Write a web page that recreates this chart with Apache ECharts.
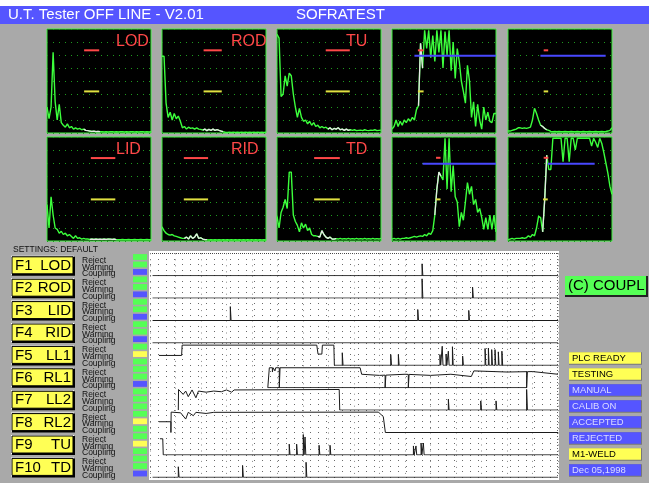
<!DOCTYPE html>
<html><head><meta charset="utf-8">
<script src="https://cdn.jsdelivr.net/npm/echarts/dist/echarts.min.js"></script>
<style>html,body{margin:0;padding:0;background:#a9a9a9;overflow:hidden}#c{width:649px;height:483px}</style>
</head><body><div id="c"></div>
<script>
// ---------------- DATA ----------------
const titleLeft = 'U.T. Tester OFF LINE - V2.01';
const titleRight = 'SOFRATEST';
const settingsText = 'SETTINGS: DEFAULT';
const scopeLabels = ['LOD','ROD','TU','','','LID','RID','TD','',''];

const traceLOD = [2.0,1.1,2.0,6.2,2.4,1.0,2.2,0.8,0.6,0.45,0.7,0.4,0.5,0.3,0.4,0.3,0.35,0.25,0.3,0.2,0.18,0.15,0.12,0.14,0.1,0.12,0.1,0.1,0.08,0.1,0.08,0.1,0.1,0.08,0.1,0.08,0.1,0.1,0.08,0.1,0.08,0.1,0.1,0.08,0.1,0.08,0.1,0.1,0.08,0.1,0.08,0.1];
const traceROD = [5.9,5.9,2.3,1.2,1.6,1.0,1.5,1.1,1.3,0.9,0.4,0.5,0.3,0.45,0.35,0.4,0.3,0.4,0.3,0.28,0.22,0.3,0.18,0.28,0.2,0.3,0.2,0.26,0.2,0.15,0.1,0.06,0.05,0.06,0.05,0.06,0.05,0.06,0.05,0.06,0.05,0.06,0.05,0.06,0.05,0.06,0.05,0.06,0.05,0.06,0.05,0.06];
const traceTU = [7.6,7.3,2.8,3.0,4.4,3.6,4.6,4.4,3.0,2.0,1.2,1.9,1.2,0.9,1.0,0.7,0.9,0.6,0.8,0.5,0.6,0.4,0.5,0.4,0.45,0.3,0.4,0.25,0.35,0.3,0.4,0.25,0.3,0.2,0.3,0.2,0.25,0.2,0.25,0.18,0.2,0.22,0.18,0.25,0.2,0.18,0.22,0.2,0.25,0.18,0.2,0.22];
const traceU4 = [0.3,0.5,1.0,0.5,0.9,0.6,1.0,0.8,1.1,0.9,1.2,1.0,1.8,2.1,6.9,5.0,7.9,6.5,7.9,5.8,7.5,5.5,7.9,6.2,7.9,5.0,7.8,6.0,7.9,4.8,7.0,4.2,6.5,5.5,4.0,3.2,2.3,5.2,4.0,1.2,2.4,0.5,2.2,1.0,0.3,2.0,1.0,1.6,0.9,0.8,1.5,1.5];
const traceU5 = [0.15,0.15,0.2,0.25,0.3,0.4,0.4,0.35,0.4,0.35,0.4,0.45,1.0,1.9,1.5,1.0,0.6,0.5,0.35,0.25,0.2,0.12,0.1,0.12,0.1,0.12,0.1,0.1,0.12,0.1,0.1,0.12,0.1,0.1,0.12,0.1,0.1,0.12,0.1,0.1,0.12,0.1,0.1,0.12,0.1,0.1,0.12,0.1,0.12,0.15,0.2,0.4];
const traceLID = [2.8,1.0,3.4,2.0,1.0,0.9,0.6,0.75,0.5,0.6,0.4,0.5,0.35,0.2,0.4,0.2,0.25,0.15,0.2,0.15,0.15,0.12,0.15,0.12,0.15,0.12,0.14,0.12,0.15,0.12,0.15,0.14,0.12,0.15,0.1,0.1,0.1,0.12,0.1,0.1,0.12,0.1,0.1,0.12,0.1,0.1,0.12,0.1,0.1,0.12,0.1,0.1];
const traceRID = [1.1,0.8,0.6,0.5,0.45,0.5,0.4,0.35,0.3,0.25,0.2,0.2,0.3,0.15,0.4,0.2,0.3,0.55,0.2,0.25,0.15,0.1,0.1,0.08,0.1,0.08,0.1,0.08,0.1,0.08,0.1,0.08,0.1,0.08,0.1,0.08,0.1,0.08,0.1,0.08,0.1,0.08,0.1,0.08,0.1,0.08,0.1,0.08,0.1,0.08,0.1,0.08];
const traceTD = [1.9,1.0,2.2,2.6,3.2,2.5,5.3,5.3,2.0,1.5,1.2,0.7,1.4,1.0,1.3,0.8,1.0,0.5,0.4,0.4,0.35,0.3,0.8,0.5,0.3,0.2,0.3,0.15,0.15,0.18,0.15,0.2,0.15,0.18,0.15,0.2,0.15,0.18,0.15,0.2,0.15,0.18,0.15,0.2,0.15,0.18,0.15,0.2,0.15,0.18,0.15,0.2];
const traceD4 = [0.15,0.2,0.15,0.2,0.15,0.2,0.2,0.25,0.2,0.25,0.3,0.35,0.3,0.35,0.4,0.35,0.5,0.4,0.6,0.5,0.8,2.0,4.0,5.3,5.0,4.7,7.9,4.0,7.9,3.8,5.8,3.4,3.0,1.1,2.2,1.6,3.0,4.5,3.6,4.2,2.8,3.2,2.2,2.5,1.8,0.9,1.8,0.9,2.0,0.9,2.0,0.7];
const traceD5 = [0.1,0.15,0.2,0.15,0.2,0.2,0.2,0.25,0.2,0.25,0.4,0.3,0.5,0.4,1.0,1.9,1.8,0.7,3.2,6.6,5.5,5.5,7.9,7.9,7.9,7.9,7.9,6.1,7.9,7.9,6.1,7.9,7.9,7.0,7.9,7.9,7.9,7.9,7.9,7.9,7.9,7.3,7.9,7.6,7.2,7.9,7.5,6.8,6.0,5.2,4.2,3.6];
const scopeTraces = [traceLOD,traceROD,traceTU,traceU4,traceU5,traceLID,traceRID,traceTD,traceD4,traceD5];
const whiteSpan = [[18,26],[20,30],[25,36],[13,15],[16,19],[21,34],[11,22],[20,29],[21,24],[17,19]];

const redStart = [18.2,20.4,23.9,12.7,17.5,21.5,10.7,18.2,21.6,17.5];
const redEnd   = [25.6,29.3,35.7,15.5,19.7,33.5,22.6,30.8,23.8,19.8];
const redLevel = [6.36,6.36,6.36,6.36,6.36,6.38,6.38,6.38,6.4,6.4];
const yellowStart = [18.2,20.4,23.9,12.7,17.5,21.5,10.7,18.2,21.6,17.2];
const yellowEnd   = [25.6,29.3,35.7,15.5,19.7,33.5,22.6,30.8,23.8,19.5];
const yellowLevel = [3.2,3.2,3.2,3.2,3.2,3.2,3.2,3.2,3.2,3.2];
const blueStart = [null,null,null,11,15.9,null,null,null,15,19.5];
const blueEnd   = [null,null,null,51,47.9,null,null,null,51,42.5];
const blueLevel = [null,null,null,5.95,5.95,null,null,null,5.94,5.94];

const keyNames   = ['F1','F2','F3','F4','F5','F6','F7','F8','F9','F10'];
const stripNames = ['LOD','ROD','LID','RID','LL1','RL1','LL2','RL2','TU','TD'];
const lampNames  = ['Reject','Warning','Coupling'];
const rejectLamp   = ['G','G','G','G','G','G','G','G','G','G'];
const warningLamp  = ['G','G','G','G','Y','G','G','Y','Y','G'];
const couplingLamp = ['B','B','B','B','G','B','G','G','G','B'];

const stepsLOD = [[1,0],[160,0]];
const spikesLOD = [[106.7,0.53]];
const stepsROD = [[1,0],[160,0]];
const spikesROD = [[106.7,0.86],[126.5,0.49]];
const stepsLID = [[1,0],[160,0]];
const spikesLID = [[31.5,0.62],[105,0.49],[125,0.45]];
const stepsRID = [[1,0],[160,0]];
const spikesRID = [];
const stepsLL1 = [[3.5,0.44],[12.4,0.44],[12.6,0.9],[65.4,0.9],[65.9,0.5],[67.4,0.5],[67.6,0.9],[72.1,0.9],[72.3,0],[160,0]];
const spikesLL1 = [[75.4,0.56],[94.4,0.48],[97.4,0.48],[113.7,0.48],[114.6,0.85],[116.1,0.5],[117,0.63],[118.6,0.83],[122.6,0.41],[131.4,0.75],[132.7,0.77],[134,0.7],[135.3,0.7],[136.6,0.6],[138,0.63]];
const stepsRL1 = [[46.2,0],[46.8,0.89],[82.4,0.89],[83,0.6],[90,0.55],[100,0.6],[110,0.55],[118,0.6],[126,0.5],[127,0.75],[140,0.7],[150,0.72],[160,0.6]];
const spikesRL1 = [[48,0.7],[49,0.75],[50.7,0],[92.2,0],[101.3,0],[147.7,0]];
const baseRL1 = [[46.2,0],[147.7,0]];
const stepsLL2 = [[11.1,0],[11.2,0.92],[13,0.7],[14,0.85],[15,0.6],[16.5,0.9],[18,0.55],[19,0.85],[22,0.8],[25,0.85],[28,0.82],[30,0.9],[32,0.8],[33,0.9],[74.2,0.92],[74.4,0],[160,0]];
const spikesLL2 = [[117,0.49],[129.7,0.41],[135.7,0.41],[147.7,0.92]];
const stepsRL2 = [[3.5,0.48],[8.2,0.48],[8.2,0],[8.3,0.91],[12,0.88],[14,0.6],[15,0.9],[17,0.75],[18,0.9],[22,0.85],[25,0.9],[89.5,0.91],[90.5,0.82],[91.5,0.7],[92.2,0.65],[92.3,0],[160,0]];
const spikesRL2 = [];
const stepsTU = [[3.9,0.72],[5,0.72],[5.2,0],[160,0]];
const spikesTU = [[54.6,0.48],[57.5,0.48],[60.1,0.91],[60.8,0.8],[66.3,0.43],[70.6,0.43],[103.3,0.4],[104.3,0.4],[106.3,0.53],[107.2,0.53]];
const stepsTD = [[1,0],[160,0]];
const spikesTD = [[11.1,0.47],[36.3,0.53],[61.2,0.67]];

const stripSteps  = [stepsLOD,stepsROD,stepsLID,stepsRID,stepsLL1,stepsRL1,stepsLL2,stepsRL2,stepsTU,stepsTD];
const stripSpikes = [spikesLOD,spikesROD,spikesLID,spikesRID,spikesLL1,spikesRL1,spikesLL2,spikesRL2,spikesTU,spikesTD];

const couplButton = '(C) COUPL';
const statusLabels = ['PLC READY','TESTING','MANUAL','CALIB ON','ACCEPTED','REJECTED','M1-WELD','Dec 05,1998'];
const statusColors = ['Y','Y','B','B','B','B','Y','B'];

// ---------------- RENDER ----------------
const COL = {G:'#55ff55', Y:'#ffff55', B:'#5555ff'};
const FONT = '"Liberation Sans", Arial, sans-serif';
const chart = echarts.init(document.getElementById('c'));
const grids=[], xAxes=[], yAxes=[], series=[], gfx=[];
const hidden = {axisLine:{show:false},axisTick:{show:false},axisLabel:{show:false}};
const PL=[47,162,277,392,508], PT=[29,137], PW=104, PH=104;

function lineSeries(gi, data, color, width, z){
  return {type:'line', xAxisIndex:gi, yAxisIndex:gi, data:data, symbol:'none', showSymbol:false,
    lineStyle:{color:color,width:width}, animation:false, silent:true, z:z||3};
}

scopeTraces.forEach((tr,k)=>{
  const col=k%5, row=Math.floor(k/5);
  grids.push({left:PL[col], top:PT[row], width:PW, height:PH, show:true, backgroundColor:'#000', borderColor:'#3cf03c', borderWidth:1});
  xAxes.push(Object.assign({gridIndex:k, type:'value', min:0, max:51, splitLine:{show:false}}, hidden));
  yAxes.push(Object.assign({gridIndex:k, type:'value', min:0, max:8, interval:1,
    splitLine:{show:true, lineStyle:{color:'#1e9a1e', type:[1,5], width:1}}}, hidden));
  const pts = tr.map((v,i)=>[i,v]);
  series.push(lineSeries(k, pts, '#3cff3c', 1.4, 3));
  const ws = whiteSpan[k];
  series.push(lineSeries(k, pts.slice(ws[0], ws[1]+1), '#e6e6e6', 1.3, 4));
  if (blueStart[k] !== null) series.push(lineSeries(k, [[blueStart[k],blueLevel[k]],[blueEnd[k],blueLevel[k]]], '#4848ff', 2, 5));
  series.push(lineSeries(k, [[redStart[k],redLevel[k]],[redEnd[k],redLevel[k]]], '#ff4848', 2, 6));
  series.push(lineSeries(k, [[yellowStart[k],yellowLevel[k]],[yellowEnd[k],yellowLevel[k]]], '#e0e040', 2, 6));
  if (scopeLabels[k]) gfx.push({type:'text', x:PL[col]+69, y:PT[row]+5, z:20,
    style:{text:scopeLabels[k], fill:'#ff4848', fontSize:16, fontFamily:FONT}});
});

function buildStrip(steps, spikes){
  const pts = steps.map(p=>p.slice());
  function levelAt(x){
    for (let i=0;i<steps.length-1;i++){
      const a=steps[i], b=steps[i+1];
      if (x>=a[0] && x<=b[0]) return b[0]===a[0] ? a[1] : a[1]+(b[1]-a[1])*(x-a[0])/(b[0]-a[0]);
    }
    return 0;
  }
  spikes.forEach(s=>{ const l=levelAt(s[0]); pts.push([s[0],l],[s[0]+0.001,s[1]],[s[0]+0.3,s[1]],[s[0]+0.301,l]); });
  pts.sort((a,b)=>a[0]-b[0]);
  return pts;
}

const SL=150, SW=408, ST=253.3, SH=22.4;
stripSteps.forEach((st,r)=>{
  const gi=10+r;
  grids.push({left:SL, top:ST+SH*r, width:SW, height:SH, show:false});
  xAxes.push(Object.assign({gridIndex:gi, type:'value', min:0, max:160, interval:10,
    splitLine:{show:true, lineStyle:{color:'#8a8a8a', type:[1,5], width:1}}}, hidden));
  yAxes.push(Object.assign({gridIndex:gi, type:'value', min:0, max:1, interval:0.25,
    splitLine:{show:true, lineStyle:{color:'#6a6a6a', type:[1,7], width:1}}}, hidden));
  series.push(lineSeries(gi, buildStrip(st, stripSpikes[r]), '#1a1a1a', 1, 3));
  if (r===5) series.push(lineSeries(gi, baseRL1, '#1a1a1a', 1, 3));
});

// chrome
gfx.push({type:'rect', z:-5, shape:{x:0,y:0,width:649,height:6}, style:{fill:'#fff'}});
gfx.push({type:'rect', z:-5, shape:{x:0,y:6,width:649,height:18}, style:{fill:'#5555ff'}});
gfx.push({type:'text', z:20, x:8, y:15, style:{text:titleLeft, fill:'#fff', fontSize:15, fontFamily:FONT, textVerticalAlign:'middle'}});
gfx.push({type:'text', z:20, x:296, y:15, style:{text:titleRight, fill:'#fff', fontSize:15, fontFamily:FONT, textVerticalAlign:'middle'}});
gfx.push({type:'rect', z:-5, shape:{x:149,y:251,width:410,height:229}, style:{fill:'#fff'}});
gfx.push({type:'line', z:-4, shape:{x1:150,y1:253.5,x2:558,y2:253.5}, style:{stroke:'#444', lineWidth:1, lineDash:[1,1]}});
gfx.push({type:'line', z:-4, shape:{x1:557.5,y1:253,x2:557.5,y2:478}, style:{stroke:'#666', lineWidth:1, lineDash:[1,2]}});
gfx.push({type:'text', z:20, x:13, y:250, style:{text:settingsText, fill:'#111', fontSize:8.5, fontFamily:FONT, textVerticalAlign:'middle'}});

keyNames.forEach((kname,r)=>{
  const y0 = ST + SH*r;
  const by = y0 + 3.5;
  gfx.push({type:'rect', z:10, shape:{x:11,y:by-1,width:63,height:19}, style:{fill:'#fff'}});
  gfx.push({type:'rect', z:10, shape:{x:12,y:by,width:63,height:19}, style:{fill:'#000'}});
  gfx.push({type:'rect', z:11, shape:{x:12,y:by,width:61,height:17}, style:{fill:'#ffff55', stroke:'#000', lineWidth:1}});
  gfx.push({type:'text', z:12, x:15, y:by+9, style:{text:kname, fill:'#000', fontSize:15, fontFamily:FONT, textVerticalAlign:'middle'}});
  gfx.push({type:'text', z:12, x:71, y:by+9, style:{text:stripNames[r], fill:'#000', fontSize:15, fontFamily:FONT, textAlign:'right', textVerticalAlign:'middle'}});
  lampNames.forEach((ln,j)=>{
    gfx.push({type:'text', z:12, x:82, y:y0+7.2+6.7*j, style:{text:ln, fill:'#111', fontSize:8.5, fontFamily:FONT, textVerticalAlign:'middle'}});
  });
  const lamps=[rejectLamp[r], warningLamp[r], couplingLamp[r]];
  lamps.forEach((c,j)=>{
    gfx.push({type:'rect', z:10, shape:{x:133,y:y0+0.8+7.47*j,width:14,height:5.8}, style:{fill:COL[c]}});
  });
});

gfx.push({type:'rect', z:10, shape:{x:565,y:276,width:83,height:21}, style:{fill:'#222'}});
gfx.push({type:'rect', z:11, shape:{x:565,y:276,width:81,height:19}, style:{fill:'#55ff55'}});
gfx.push({type:'text', z:12, x:568, y:286, style:{text:couplButton, fill:'#000', fontSize:15, fontFamily:FONT, textVerticalAlign:'middle'}});

statusLabels.forEach((t,i)=>{
  const y = 352.3 + 16*i;
  gfx.push({type:'rect', z:10, shape:{x:569,y:y,width:73,height:12.5}, style:{fill:'#777'}});
  gfx.push({type:'rect', z:11, shape:{x:569,y:y,width:72,height:11.5}, style:{fill:COL[statusColors[i]]}});
  gfx.push({type:'text', z:12, x:572, y:y+6.3, style:{text:t, fill:statusColors[i]==='Y'?'#000':'#dcdcff', fontSize:9.5, fontFamily:FONT, textVerticalAlign:'middle'}});
});

chart.setOption({
  backgroundColor:'#a9a9a9',
  animation:false,
  grid:grids, xAxis:xAxes, yAxis:yAxes, series:series, graphic:{elements:gfx}
});
</script></body></html>
